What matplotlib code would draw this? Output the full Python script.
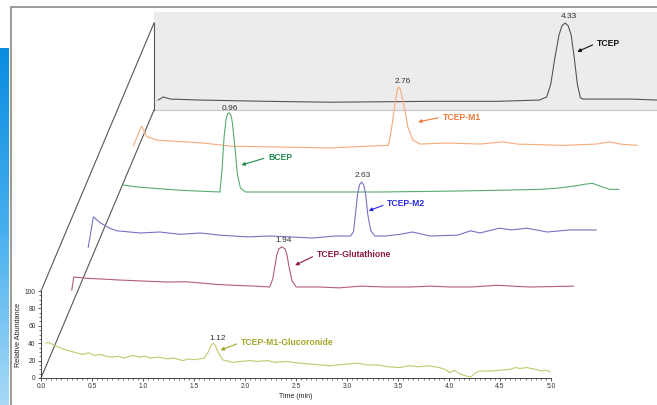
import matplotlib
matplotlib.use("Agg")
import matplotlib.pyplot as plt
import numpy as np
from matplotlib.colors import LinearSegmentedColormap
from matplotlib.patches import Polygon, Rectangle
from matplotlib.ticker import MultipleLocator, FormatStrFormatter

plt.rcParams["font.family"] = ["Liberation Sans", "DejaVu Sans"]

# each trace sits one step further back: shift in min and in % abundance
DX, DY = 0.2216, 61.6

# chromatograms, front (k=0) to back (k=5); time in min, relative abundance in %
gluc_t = [0.05, 0.07, 0.16, 0.25, 0.41, 0.47, 0.52, 0.58, 0.64, 0.70, 0.75, 0.82, 0.90, 0.96,
          1.02, 1.07, 1.15, 1.24, 1.30, 1.39, 1.45, 1.50, 1.56, 1.60, 1.64, 1.67, 1.69, 1.71,
          1.74, 1.78, 1.88, 1.95, 2.05, 2.12, 2.22, 2.30, 2.40, 2.54, 2.65, 2.75, 2.83, 3.00,
          3.10, 3.20, 3.30, 3.40, 3.52, 3.60, 3.70, 3.80, 3.90, 3.96, 4.01, 4.05, 4.10, 4.15,
          4.21, 4.26, 4.30, 4.40, 4.50, 4.60, 4.65, 4.70, 4.76, 4.85, 4.90, 4.95, 4.99]
gluc_a = [40, 41, 36, 32, 27, 29, 26, 27, 25, 24, 25, 23, 26, 24,
          25, 23, 24, 22, 23, 20, 22, 21, 22, 23, 30, 38, 40, 37,
          29, 21, 18, 19, 20, 19, 20, 18, 19, 17, 16, 15, 14, 16,
          17, 15, 15, 13, 12, 14, 13, 14, 12, 10, 6, 9, 5, 3,
          1, 6, 8, 8, 9, 10, 12, 11, 12, 10, 8, 9, 7]

glut_t = [0.08, 0.10, 0.23, 0.40, 0.55, 0.75, 1.01, 1.20, 1.34, 1.50, 1.66, 1.88, 2.02, 2.05,
          2.07, 2.09, 2.11, 2.14, 2.17, 2.19, 2.21, 2.24, 2.28, 2.51, 2.70, 2.91, 3.15, 3.40,
          3.60, 3.79, 4.00, 4.25, 4.40, 4.57, 4.80, 5.00]
glut_a = [39.5, 54.5, 53, 52, 51, 50, 48.7, 49, 47.6, 46, 45, 44, 43, 52,
          66, 80, 87, 89, 87, 80, 66, 50, 43, 43, 42, 44, 43, 43,
          44, 43, 43, 45, 44, 43, 43.5, 44]

m2_t = [0.02, 0.07, 0.14, 0.23, 0.30, 0.53, 0.72, 0.92, 1.12, 1.31, 1.58, 1.80, 2.00, 2.22,
        2.44, 2.59, 2.62, 2.64, 2.66, 2.68, 2.70, 2.72, 2.74, 2.76, 2.79, 2.83, 2.93, 3.08,
        3.20, 3.37, 3.64, 3.77, 3.86, 4.05, 4.17, 4.32, 4.52, 4.74, 5.00]
m2_a = [27, 62, 55, 49, 46, 43.5, 44.6, 42, 43.5, 41, 39, 40, 39, 37.7,
        40, 40, 44.6, 65, 88, 99, 102, 99, 88, 65, 46, 40, 40, 42,
        44.6, 40, 41, 46, 43.5, 49, 47, 49, 44.6, 47, 47]

bcep_t = [0.14, 0.26, 0.40, 0.70, 0.89, 1.09, 1.11, 1.13, 1.15, 1.165, 1.18, 1.195, 1.21, 1.23,
          1.26, 1.29, 1.34, 1.88, 2.66, 3.35, 3.84, 4.23, 4.42, 4.57, 4.67, 4.74, 4.81, 4.91,
          5.00]
bcep_a = [37, 35, 33.6, 31, 30, 29, 55, 92, 113, 119, 120, 118, 110, 88,
          50, 33.6, 29, 29, 29, 30, 31, 32, 33.6, 36, 38, 39, 36, 32,
          32]

m1_t = [0.02, 0.10, 0.15, 0.25, 0.67, 0.99, 1.50, 1.95, 2.30, 2.52, 2.55, 2.58, 2.60, 2.61,
        2.62, 2.635, 2.65, 2.68, 2.71, 2.76, 2.83, 3.09, 3.42, 3.64, 3.78, 4.23, 4.56, 4.69,
        4.79, 4.96]
m1_a = [21, 43, 31, 27, 24, 20, 19, 18, 20, 21, 40, 65, 80, 86,
        88, 86, 79, 62, 42, 27, 22.5, 23.7, 22.5, 25, 22.5, 21, 22.5, 25,
        22.5, 21]

tcep_t = [0.04, 0.09, 0.16, 0.45, 1.11, 1.73, 2.71, 3.36, 3.78, 3.85, 3.89, 3.93, 3.97, 4.00,
          4.03, 4.06, 4.09, 4.12, 4.15, 4.18, 4.21, 4.34, 4.67, 4.93, 5.00]
tcep_a = [11.5, 15, 12.6, 11.5, 10, 9, 10, 10, 11.5, 15, 30, 60, 86, 97,
          100, 97, 86, 60, 30, 14, 12.6, 12.6, 12.6, 11.5, 11.5]

names = ["TCEP-M1-Glucoronide", "TCEP-Glutathione", "TCEP-M2", "BCEP", "TCEP-M1", "TCEP"]
peak_rt = ["1.12", "1.94", "2.63", "0.96", "2.76", "4.33"]

line_colors = ["#c3c86c", "#b45c7c", "#7474c4", "#5aab70", "#f6ab7c", "#555555"]
label_colors = ["#a3a62a", "#8c1a3c", "#2a2ae6", "#1f8a4c", "#f07a3c", "#111111"]

# label layout, in each trace's own (time, abundance) frame
rt_pos = [(1.73, 45), (2.16, 97), (2.71, 109), (1.19, 125), (2.66, 94), (4.07, 107)]
name_pos = [(1.96, 41), (2.48, 80), (2.95, 77), (1.56, 69), (3.05, 53.6), (4.34, 77)]
tip_pos = [(1.76, 32), (2.27, 68), (2.77, 69), (1.30, 60), (2.81, 48), (4.15, 67)]

traces = [(gluc_t, gluc_a), (glut_t, glut_a), (m2_t, m2_a),
          (bcep_t, bcep_a), (m1_t, m1_a), (tcep_t, tcep_a)]


def proj(t, a, k):
    return np.asarray(t, float) + k * DX, np.asarray(a, float) + k * DY


def pt(p, k):
    x, y = proj(p[0], p[1], k)
    return float(x), float(y)


W, H = 657, 405
fig = plt.figure(figsize=(W / 100, H / 100), dpi=100)


def fx(px):
    return px / W


def fy(py):
    return 1 - py / H


# blue slide strip on the left
strip = fig.add_axes([0, 0, fx(9), fy(48)])
cmap = LinearSegmentedColormap.from_list("strip", ["#0a8ce0", "#45aeee", "#a8daf7"])
strip.imshow(np.linspace(0, 1, 256).reshape(-1, 1), aspect="auto", cmap=cmap)
strip.axis("off")

fig.add_artist(Rectangle((fx(10.5), -0.01), 1, fy(7) + 0.01, transform=fig.transFigure,
                         fill=False, ec="#8a8a8a", lw=1.2))

ax = fig.add_axes([fx(41), fy(378), fx(551) - fx(41), fy(291) - fy(378)])
ax.patch.set_alpha(0)
ax.set_xlim(0, 5)
ax.set_ylim(0, 100)
for s in ("top", "right"):
    ax.spines[s].set_visible(False)
for s in ("left", "bottom"):
    ax.spines[s].set_color("#444444")
    ax.spines[s].set_linewidth(0.7)
ax.xaxis.set_major_locator(MultipleLocator(0.5))
ax.xaxis.set_minor_locator(MultipleLocator(0.05))
ax.xaxis.set_major_formatter(FormatStrFormatter("%.1f"))
ax.yaxis.set_major_locator(MultipleLocator(20))
ax.yaxis.set_minor_locator(MultipleLocator(5))
ax.tick_params(which="major", labelsize=4.8, length=2.4, width=0.6, pad=1.5,
               colors="#444444", labelcolor="#333333")
ax.tick_params(which="minor", length=1.2, width=0.5, colors="#444444")
ax.set_xlabel("Time (min)", fontsize=5, labelpad=1.5, color="#222222")
ax.set_ylabel("Relative Abundance", fontsize=5.2, labelpad=2, color="#222222")

# back wall and depth edges
wx, wy = proj([0, 5.4, 5.4, 0], [0, 0, 112.6, 112.6], 5)
ax.add_patch(Polygon(np.column_stack([wx, wy]), closed=True, fc="#ececec", ec="none",
                     clip_on=False, zorder=0))
ax.plot(*proj([0, 5.4], [0, 0], 5), color="#c8c8c8", lw=0.8, clip_on=False, zorder=1)
ax.plot(*proj([0, 0], [0, 100], 5), color="#555555", lw=0.8, clip_on=False, zorder=1)
ax.plot([0, 5 * DX], [100, 100 + 5 * DY], color="#555555", lw=0.8, clip_on=False, zorder=1)
ax.plot([0, 5 * DX], [0, 5 * DY], color="#555555", lw=0.8, clip_on=False, zorder=1)

for k, (t, a) in enumerate(traces):
    ax.plot(*proj(t, a, k), color=line_colors[k], lw=0.8, clip_on=False, zorder=10 - k)
    ax.text(*pt(rt_pos[k], k), peak_rt[k], ha="center", va="center", fontsize=6,
            color="#333333", clip_on=False, zorder=20)
    ax.annotate(names[k], xy=pt(tip_pos[k], k), xytext=pt(name_pos[k], k),
                ha="left", va="center", fontsize=6.2, fontweight="bold", color=label_colors[k],
                arrowprops=dict(arrowstyle="-|>", color=label_colors[k], lw=0.8,
                                mutation_scale=5, shrinkA=1, shrinkB=0, relpos=(0, 0.5)),
                annotation_clip=False, zorder=20)

fig.savefig("out.png", dpi=100)
